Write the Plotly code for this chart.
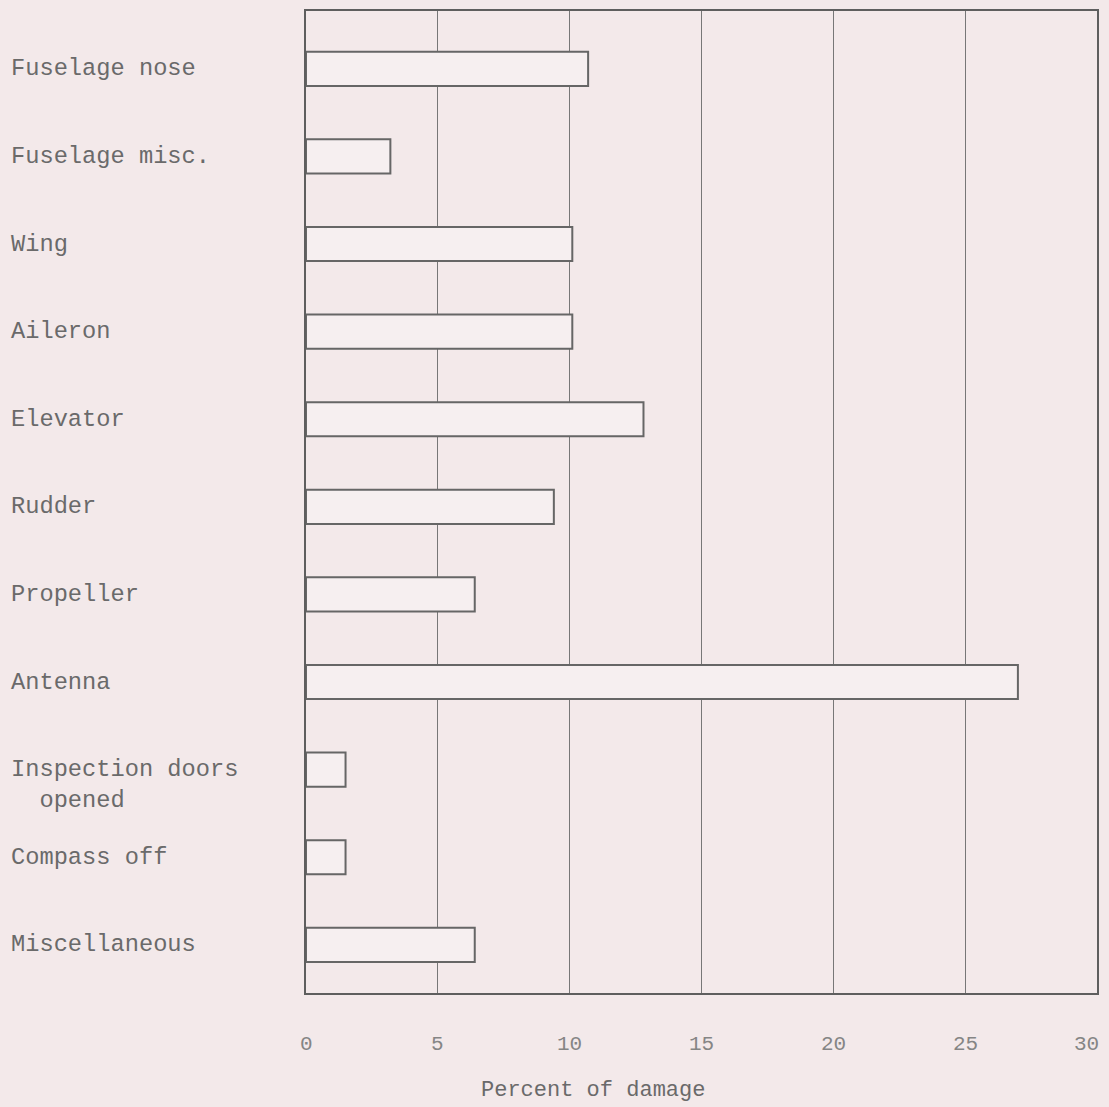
import plotly.graph_objects as go

# Damage by component, percent of all damage items
components = [
    "Fuselage nose",
    "Fuselage misc.",
    "Wing",
    "Aileron",
    "Elevator",
    "Rudder",
    "Propeller",
    "Antenna",
    "Inspection doors<br>  opened",
    "Compass off",
    "Miscellaneous",
]
percent_damage = [10.7, 3.2, 10.1, 10.1, 12.8, 9.4, 6.4, 27.0, 1.5, 1.5, 6.4]

x_ticks = [0, 5, 10, 15, 20, 25, 30]
x_tick_labels = ["0", "5", "10", "15", "20", "25", "30"]
x_title = "Percent of damage"

paper = "#f3e9ea"
ink = "#5e5e5e"
type_font = "Liberation Mono, Courier New, monospace"

positions = list(range(len(components)))

fig = go.Figure()
fig.add_trace(go.Bar(
    x=percent_damage,
    y=positions,
    orientation="h",
    width=0.39,
    marker=dict(color="#f6eff0", line=dict(color="#666666", width=2)),
    hoverinfo="x",
))

# left-aligned typewritten category labels
for pos, name in zip(positions, components):
    n_lines = name.count("<br>") + 1
    fig.add_annotation(
        xref="paper", yref="y",
        x=-0.376, y=pos,
        xanchor="left", yanchor="middle",
        align="left",
        text=name,
        showarrow=False,
        yshift=-(n_lines - 1) * 15,
        font=dict(family=type_font, size=23.7, color="#6a6a6a"),
    )

# scale numbers under the frame; the last one is kept inside the page edge
for i, (val, lab) in enumerate(zip(x_ticks, x_tick_labels)):
    last = i == len(x_ticks) - 1
    fig.add_annotation(
        xref="x", yref="paper",
        x=val, y=-0.052,
        xanchor="right" if last else "center",
        yanchor="middle",
        xshift=4 if last else 0,
        text=lab,
        showarrow=False,
        font=dict(family=type_font, size=21, color="#858585"),
    )

fig.add_annotation(
    xref="paper", yref="paper",
    x=0.363, y=-0.099,
    xanchor="center", yanchor="middle",
    text=x_title,
    showarrow=False,
    font=dict(family=type_font, size=22, color="#6a6a6a"),
)

fig.update_layout(
    width=1109, height=1107,
    margin=dict(l=306, r=12, t=11, b=114, autoexpand=False),
    paper_bgcolor=paper,
    plot_bgcolor=paper,
    showlegend=False,
    bargap=0.6,
)

fig.update_xaxes(
    range=[0, 30],
    tickvals=x_ticks,
    showticklabels=False,
    ticks="",
    automargin=False,
    showgrid=True,
    gridcolor="#777777",
    gridwidth=1,
    zeroline=False,
    showline=True,
    linecolor=ink,
    linewidth=2,
    mirror=True,
    fixedrange=True,
)

fig.update_yaxes(
    range=[10.55, -0.66],
    showticklabels=False,
    ticks="",
    showgrid=False,
    zeroline=False,
    showline=True,
    linecolor=ink,
    linewidth=2,
    mirror=True,
    fixedrange=True,
)

fig.write_html("out.html")
